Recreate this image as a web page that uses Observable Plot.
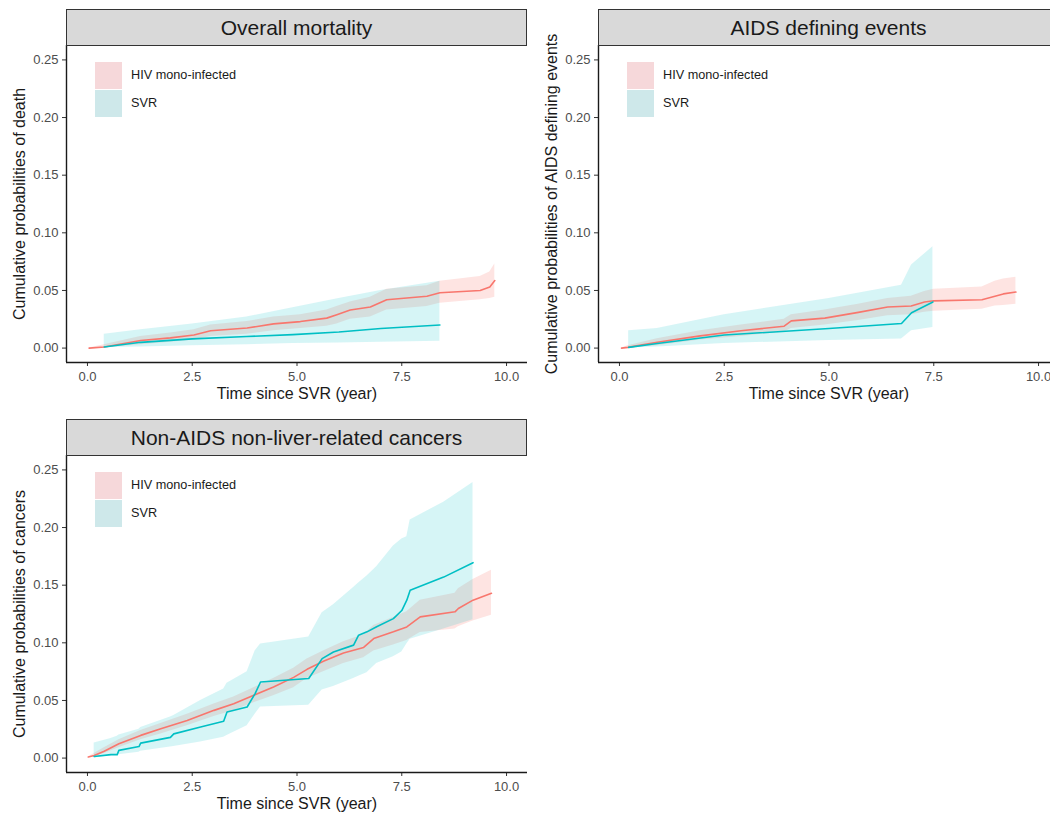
<!DOCTYPE html>
<html>
<head>
<meta charset="utf-8">
<script src="https://cdn.jsdelivr.net/npm/d3@7"></script>
<script src="https://cdn.jsdelivr.net/npm/@observablehq/plot@0.6"></script>
<style>
  html, body { margin: 0; padding: 0; background: #fff; }
  body { width: 1050px; height: 817px; overflow: hidden; position: relative;
         font-family: "Liberation Sans", Arial, Helvetica, sans-serif; }
  .panel { position: absolute; width: 530px; height: 410px; }
  .panel svg { position: absolute; left: 0; top: 0; overflow: visible; }
  .strip { position: absolute; top: 9px; height: 35px; left: 66px; width: 459px;
           background: #d9d9d9; border: 1.2px solid #333; font-size: 21px; color: #1a1a1a;
           display: flex; align-items: center; justify-content: center; }
  .key { position: absolute; left: 95px; width: 27px; height: 27px; }
  .klab { position: absolute; left: 131px; font-size: 12.7px; color: #1a1a1a; line-height: 14px; }
</style>
</head>
<body>
<script>
// ---- Data: [time (years), estimate, lower CI, upper CI] ----
const xTicks = [0, 2.5, 5, 7.5, 10];
const yTicks = [0, 0.05, 0.10, 0.15, 0.20, 0.25];
const groups = ["HIV mono-infected", "SVR"];
const groupColors = ["#F8766D", "#00BFC4"];
const panelTitles = ["Overall mortality", "AIDS defining events", "Non-AIDS non-liver-related cancers"];
const yTitles = ["Cumulative probabilities of death", "Cumulative probabilities of AIDS defining events", "Cumulative probabilities of cancers"];

const mortalityHIV = [
  [0.04, 0, 0, 0], [0.4, 0.001, 0.0, 0.003], [1.27, 0.0066, 0.003, 0.010], [1.98, 0.0089, 0.005, 0.013],
  [2.54, 0.0114, 0.007, 0.016], [2.94, 0.015, 0.010, 0.020], [3.81, 0.0174, 0.012, 0.023],
  [4.44, 0.021, 0.015, 0.027], [5.08, 0.023, 0.017, 0.029], [5.71, 0.026, 0.019, 0.033],
  [5.95, 0.029, 0.021, 0.036], [6.27, 0.033, 0.025, 0.040], [6.75, 0.0357, 0.027, 0.044],
  [7.14, 0.042, 0.033, 0.051], [8.1, 0.045, 0.036, 0.054], [8.41, 0.048, 0.039, 0.058],
  [9.37, 0.050, 0.042, 0.062], [9.6, 0.053, 0.043, 0.066], [9.72, 0.0586, 0.044, 0.073]
];
const mortalitySVR = [
  [0.4, 0.001, 0.0005, 0.012], [1.27, 0.005, 0.001, 0.016], [2.5, 0.008, 0.002, 0.021],
  [3.8, 0.010, 0.003, 0.027], [4.9, 0.0117, 0.004, 0.035], [6.0, 0.014, 0.0045, 0.043],
  [7.0, 0.017, 0.005, 0.050], [8.41, 0.020, 0.006, 0.058]
];
const aidsHIV = [
  [0.05, 0, 0, 0], [0.2, 0.0006, 0, 0.002], [0.9, 0.005, 0.002, 0.008], [1.93, 0.0106, 0.007, 0.015],
  [2.9, 0.015, 0.010, 0.020], [3.93, 0.019, 0.014, 0.025], [4.1, 0.0236, 0.017, 0.029],
  [4.9, 0.026, 0.020, 0.033], [5.7, 0.031, 0.024, 0.038], [6.4, 0.0356, 0.028, 0.043],
  [6.96, 0.0365, 0.029, 0.045], [7.28, 0.040, 0.031, 0.049], [7.5, 0.041, 0.032, 0.051],
  [8.65, 0.042, 0.0336, 0.053], [8.96, 0.045, 0.0365, 0.058], [9.16, 0.047, 0.037, 0.060],
  [9.46, 0.0486, 0.038, 0.0615]
];
const aidsSVR = [
  [0.22, 0.0006, 0, 0.015], [0.9, 0.004, 0.001, 0.017], [2.5, 0.0113, 0.004, 0.029],
  [5.0, 0.017, 0.0065, 0.043], [6.73, 0.0213, 0.0078, 0.0546], [6.97, 0.0307, 0.015, 0.072],
  [7.48, 0.040, 0.0178, 0.088]
];
const cancerHIV = [
  [0.02, 0.001, 0.001, 0.001], [0.16, 0.0023, 0.001, 0.004], [0.4, 0.006, 0.004, 0.009],
  [0.75, 0.0125, 0.009, 0.016], [1.27, 0.0197, 0.016, 0.024], [1.75, 0.0255, 0.021, 0.030],
  [2.38, 0.0327, 0.028, 0.038], [3.02, 0.0414, 0.036, 0.047], [3.49, 0.0472, 0.041, 0.053],
  [3.97, 0.0545, 0.048, 0.061], [4.44, 0.0617, 0.054, 0.069], [4.92, 0.070, 0.061, 0.078],
  [5.24, 0.077, 0.069, 0.086], [5.63, 0.084, 0.075, 0.093], [6.11, 0.0912, 0.082, 0.101],
  [6.59, 0.096, 0.087, 0.107], [6.83, 0.1037, 0.093, 0.115], [7.3, 0.1095, 0.098, 0.122],
  [7.62, 0.1138, 0.102, 0.127], [7.94, 0.1225, 0.109, 0.137], [8.77, 0.1269, 0.112, 0.143],
  [8.85, 0.1298, 0.114, 0.147], [9.2, 0.137, 0.119, 0.155], [9.64, 0.143, 0.124, 0.163]
];
const cancerSVR = [
  [0.16, 0.0014, 0, 0.013], [0.56, 0.003, 0.002, 0.017], [0.71, 0.003, 0.003, 0.019],
  [0.75, 0.0067, 0.003, 0.020], [1.23, 0.010, 0.005, 0.025], [1.27, 0.013, 0.006, 0.0265],
  [1.98, 0.018, 0.0096, 0.0356], [2.06, 0.021, 0.010, 0.037], [2.7, 0.027, 0.014, 0.050],
  [3.25, 0.032, 0.018, 0.060], [3.33, 0.040, 0.0197, 0.065], [3.81, 0.0443, 0.028, 0.075],
  [4.0, 0.056, 0.038, 0.093], [4.13, 0.066, 0.0443, 0.099], [5.28, 0.069, 0.0458, 0.105],
  [5.6, 0.0863, 0.059, 0.126], [5.87, 0.092, 0.062, 0.133], [6.35, 0.098, 0.069, 0.148],
  [6.47, 0.1066, 0.071, 0.152], [6.67, 0.1095, 0.074, 0.158], [6.9, 0.114, 0.082, 0.166],
  [7.3, 0.121, 0.088, 0.184], [7.5, 0.128, 0.092, 0.190], [7.62, 0.137, 0.099, 0.192],
  [7.7, 0.1457, 0.103, 0.2066], [8.5, 0.157, 0.112, 0.222], [9.2, 0.1695, 0.12, 0.239]
];

const xDomain = [-0.5, 10.5];
const yDomain = [-0.0125, 0.2625];

const toRows = arr => arr.map(([t, est, lo, hi]) => ({t, est, lo, hi}));
const fmtX = d3.format(".1f");

function makePanel({left, top, hiv, svr, title, yTitle}) {
  const div = document.createElement("div");
  div.className = "panel";
  div.style.left = left + "px";
  div.style.top = top + "px";
  const hivRows = toRows(hiv), svrRows = toRows(svr);
  const chart = Plot.plot({
    width: 530, height: 410,
    marginLeft: 66, marginRight: 3, marginTop: 45, marginBottom: 48,
    style: {fontFamily: '"Liberation Sans", Arial, Helvetica, sans-serif', color: "#4d4d4d", background: "transparent"},
    x: {domain: xDomain},
    y: {domain: yDomain},
    marks: [
      Plot.area(hivRows, {x1: "t", y1: "lo", y2: "hi", fill: groupColors[0], fillOpacity: 0.2}),
      Plot.area(svrRows, {x1: "t", y1: "lo", y2: "hi", fill: groupColors[1], fillOpacity: 0.16}),
      Plot.line(hivRows, {x: "t", y: "est", stroke: groupColors[0], strokeWidth: 1.6}),
      Plot.line(svrRows, {x: "t", y: "est", stroke: groupColors[1], strokeWidth: 1.6}),
      Plot.axisX({ticks: xTicks, tickFormat: () => "", tickSize: 4, label: null, stroke: "#333"}),
      Plot.text(xTicks, {x: d => d, text: d => fmtX(d), frameAnchor: "bottom", textAnchor: "middle", lineAnchor: "middle", dy: 14.5, fontSize: 13, fill: "#4d4d4d"}),
      Plot.axisY({ticks: yTicks, tickFormat: d3.format(".2f"), tickSize: 4, tickPadding: 4, fontSize: 13, label: null, stroke: "#333", fill: "#4d4d4d"}),
      Plot.ruleX([xDomain[0]], {stroke: "#1a1a1a", strokeWidth: 1.4}),
      Plot.ruleY([yDomain[0]], {stroke: "#1a1a1a", strokeWidth: 1.4}),
      Plot.text(["Time since SVR (year)"], {frameAnchor: "bottom", textAnchor: "middle", lineAnchor: "middle", dy: 31.5, fontSize: 16, fill: "#1a1a1a"}),
      Plot.text([yTitle], {frameAnchor: "left", textAnchor: "middle", lineAnchor: "middle", rotate: -90, dx: -47, fontSize: 16, fill: "#1a1a1a"})
    ]
  });
  div.appendChild(chart);
  const strip = document.createElement("div");
  strip.className = "strip";
  strip.textContent = title;
  div.appendChild(strip);
  groups.forEach((g, i) => {
    const k = document.createElement("div");
    k.className = "key";
    k.style.top = (62 + i * 28) + "px";
    k.style.background = i === 0 ? "#F6D8DA" : "#CEE8EA";
    div.appendChild(k);
    const l = document.createElement("div");
    l.className = "klab";
    l.style.top = (62 + i * 28 + 6) + "px";
    l.textContent = g;
    div.appendChild(l);
  });
  document.body.appendChild(div);
}

makePanel({left: 0, top: 0, hiv: mortalityHIV, svr: mortalitySVR, title: panelTitles[0], yTitle: yTitles[0]});
makePanel({left: 532, top: 0, hiv: aidsHIV, svr: aidsSVR, title: panelTitles[1], yTitle: yTitles[1]});
makePanel({left: 0, top: 410, hiv: cancerHIV, svr: cancerSVR, title: panelTitles[2], yTitle: yTitles[2]});
</script>
</body>
</html>
